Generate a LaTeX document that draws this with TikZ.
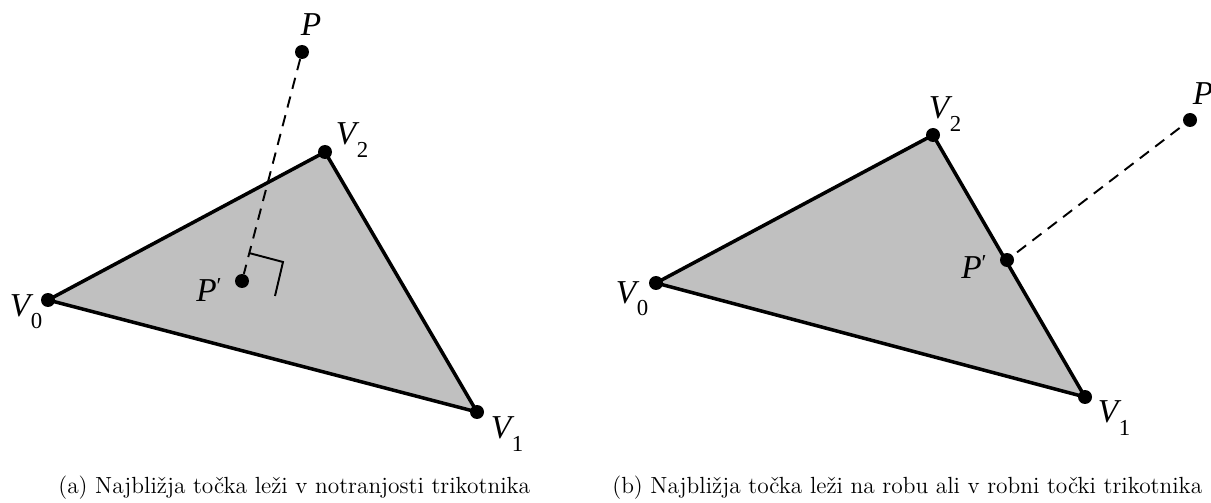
\documentclass[tikz,border=0pt]{standalone}
\usepackage{fontspec}
\newfontfamily\figfont{Liberation Serif}
\definecolor{shade}{RGB}{192, 192, 192}
\usetikzlibrary{calc, backgrounds}
\tikzset{
    vdot/.style={
        circle, fill=black, inner sep=0pt, minimum size=0.28cm
    },
    side/.style={line width=2pt, line join=round, draw=black, fill=shade},
    proj/.style={line width=1.1pt, dash pattern=on 6.5pt off 4.5pt},
    mark90/.style={line width=1.1pt},
    lbl/.style={font=\figfont\fontsize{19}{19}\selectfont, inner sep=0pt},
    capt/.style={font=\fontsize{13.3}{16}\selectfont, anchor=base west, inner sep=0pt}
}
\newcommand{\vsub}[2]{\textit{#1}\kern-1.5pt\raisebox{-7pt}{\fontsize{13}{13}\selectfont #2}}
\newcommand{\pprime}{\textit{P}\raisebox{5pt}{\fontsize{13}{13}\selectfont ′}}

\begin{document}
\begin{tikzpicture}[x=0.02cm, y=-0.02cm]
    \useasboundingbox (0,0) rectangle (1211,503);

    % (a) point inside the triangle
    \node[vdot] (v0a) at (48,300) {};
    \node[vdot] (v1a) at (477,412) {};
    \node[vdot] (v2a) at (325,152) {};
    \node[vdot] (pa) at (302,52) {};
    \node[vdot] (ppa) at (242,281) {};

    \begin{scope}[on background layer]
        \draw[side] (v0a.center) -- (v1a.center) -- (v2a.center) -- cycle;
    \end{scope}

    \draw[proj] (pa) -- (ppa);
    \coordinate (ma) at (249,253);
    \coordinate (mb) at (283,262);
    \coordinate (mc) at (275,296);
    \draw[mark90] (ma) -- (mb) -- (mc);

    \node[lbl] (lpa) at ($(pa)+(9,-27)$) {\textit{P}};
    \node[lbl] (lv2a) at ($(v2a)+(27,-12)$) {\vsub{V}{2}};
    \node[lbl] (lv0a) at ($(v0a)+(-22,12)$) {\vsub{V}{0}};
    \node[lbl] (lv1a) at ($(v1a)+(30,22)$) {\vsub{V}{1}};
    \node[lbl] (lppa) at ($(ppa)+(-33,9)$) {\pprime};

    % (b) point on an edge of the triangle
    \node[vdot] (v0b) at (656,283) {};
    \node[vdot] (v1b) at (1085,397) {};
    \node[vdot] (v2b) at (933,135) {};
    \node[vdot] (pb) at (1190,120) {};
    \node[vdot] (ppb) at (1007,260) {};

    \begin{scope}[on background layer]
        \draw[side] (v0b.center) -- (v1b.center) -- (v2b.center) -- cycle;
    \end{scope}

    \draw[proj, shorten <=3pt] (ppb) -- (pb);

    \node[lbl] (lpb) at ($(pb)+(13,-26)$) {\textit{P}};
    \node[lbl] (lv2b) at ($(v2b)+(12,-21)$) {\vsub{V}{2}};
    \node[lbl] (lv0b) at ($(v0b)+(-24,16)$) {\vsub{V}{0}};
    \node[lbl] (lv1b) at ($(v1b)+(29,21)$) {\vsub{V}{1}};
    \node[lbl] (lppb) at ($(ppb)+(-33,7)$) {\pprime};

    % Captions
    \node[capt] (capa) at (58,493) {(a) Najbližja točka leži v notranjosti trikotnika};
    \node[capt] (capb) at (612,493) {(b) Najbližja točka leži na robu ali v robni točki trikotnika};
\end{tikzpicture}
\end{document}
